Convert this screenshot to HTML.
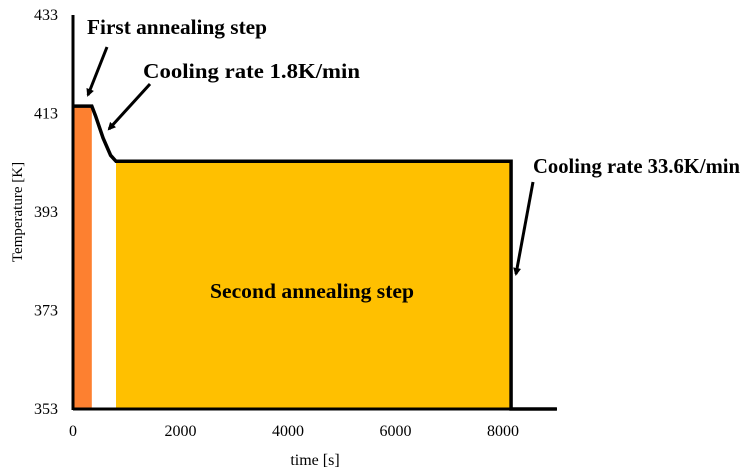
<!DOCTYPE html>
<html><head><meta charset="utf-8"><style>
body{margin:0;background:#fff}
svg{display:block;font-family:"Liberation Serif",serif}
</style></head><body>
<svg width="756" height="472" viewBox="0 0 756 472" id="chart">
<defs><marker id="ah" markerWidth="8" markerHeight="8" refX="6" refY="4" orient="auto" markerUnits="userSpaceOnUse"><path d="M0,0 L8,4 L0,8 Z" fill="#000"/></marker></defs>
<g id="fills"></g>
<g id="line"></g>
<line x1="73" y1="15" x2="73" y2="410" stroke="#000" stroke-width="3"/>
<line x1="73" y1="409" x2="557" y2="409" stroke="#000" stroke-width="3"/>
<g id="ticks" font-size="16"></g>
<text x="315" y="465" font-size="16" text-anchor="middle">time [s]</text>
<text transform="translate(22,212) rotate(-90)" font-size="15" text-anchor="middle">Temperature [K]</text>
<g font-weight="bold" font-size="21">
<text x="87" y="34" textLength="180" lengthAdjust="spacingAndGlyphs">First annealing step</text>
<text x="143" y="78" textLength="217" lengthAdjust="spacingAndGlyphs">Cooling rate 1.8K/min</text>
<text x="533" y="173" textLength="207" lengthAdjust="spacingAndGlyphs">Cooling rate 33.6K/min</text>
<text x="210" y="298" textLength="204" lengthAdjust="spacingAndGlyphs">Second annealing step</text>
</g>
<g stroke="#000" stroke-width="3">
<line x1="107" y1="47" x2="88" y2="95" marker-end="url(#ah)"/>
<line x1="150" y1="84" x2="109" y2="129" marker-end="url(#ah)"/>
<line x1="533" y1="182" x2="516" y2="274" marker-end="url(#ah)"/>
</g>
</svg>
<script>
const times=[0,350,420,560,700,800,8150,8150,9000];
const temps=[414.5,414.5,412.5,408,404.5,403.3,403.3,353,353];
const xTicks=[0,2000,4000,6000,8000];
const yTicks=[353,373,393,413,433];
const firstStep=[0,350];
const secondStep=[800,8150];
const X=t=>73+t*(107.5/2000);
const Y=v=>409-(v-353)*(394/80);
const ns="http://www.w3.org/2000/svg";
const fills=document.getElementById('fills');
function rect(a,b,top,col,name){
 const r=document.createElementNS(ns,'rect');
 r.setAttribute('x',X(a));r.setAttribute('width',X(b)-X(a));
 r.setAttribute('y',Y(top));r.setAttribute('height',Y(353)-Y(top));
 r.setAttribute('fill',col);
 
 
 fills.appendChild(r);
}
rect(firstStep[0],firstStep[1],temps[0],'#fd8030','first-step-area');
rect(secondStep[0],secondStep[1],temps[5],'#ffc000','second-step-area');
const p=document.createElementNS(ns,'polyline');
p.setAttribute('points',times.map((t,i)=>X(t)+','+Y(temps[i])).join(' '));
p.setAttribute('fill','none');p.setAttribute('stroke','#000');p.setAttribute('stroke-width','3.5');


document.getElementById('line').appendChild(p);
const tg=document.getElementById('ticks');
xTicks.forEach(t=>{const e=document.createElementNS(ns,'text');e.setAttribute('x',X(t));e.setAttribute('y',436);e.setAttribute('text-anchor','middle');e.textContent=t;


tg.appendChild(e);});
yTicks.forEach(v=>{const e=document.createElementNS(ns,'text');e.setAttribute('x',58);e.setAttribute('y',Y(v)+5);e.setAttribute('text-anchor','end');e.textContent=v;


tg.appendChild(e);});
</script>
</body></html>
